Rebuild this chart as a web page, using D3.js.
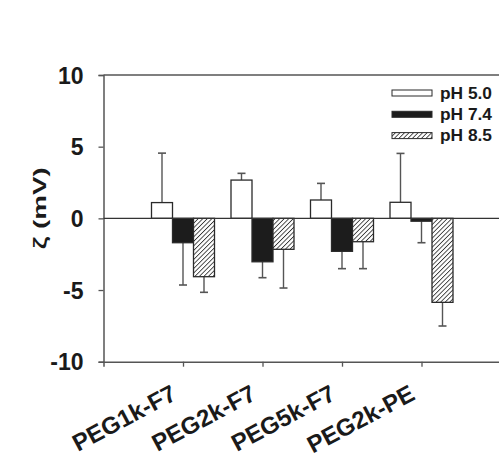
<!DOCTYPE html>
<html>
<head>
<meta charset="utf-8">
<script src="https://cdn.jsdelivr.net/npm/d3@7"></script>
<style>
  body { margin: 0; background: #fff; }
  text { font-family: "Liberation Sans", Arial, sans-serif; font-weight: bold; fill: #1a1a1a; }
</style>
</head>
<body>
<div id="chart"></div>
<script>
// data
let categories = ["PEG1k-F7", "PEG2k-F7", "PEG5k-F7", "PEG2k-PE"];
let series = ["pH 5.0", "pH 7.4", "pH 8.5"];
let ph50 = [1.1, 2.67, 1.28, 1.12];
let ph74 = [-1.7, -3.03, -2.3, -0.2];
let ph85 = [-4.07, -2.16, -1.63, -5.86];
let ph50_err = [3.45, 0.47, 1.16, 3.41];
let ph74_err = [2.95, 1.11, 1.21, 1.5];
let ph85_err = [1.09, 2.7, 1.88, 1.65];
let y_ticks = [10, 5, 0, -5, -10];

let _default = {
    width: 499,
    height: 458,
    left: 103.5,
    right: 501,
    top: 75,
    bottom: 361.7,
    bar_w: 21,
    cap_w: 8,
    axis: "#555",
    outline: "#2a2a2a"
};

let fills = ["#fff", "#1c1c1c", "url(#hatch)"];
let values = [ph50, ph74, ph85];
let errors = [ph50_err, ph74_err, ph85_err];

let svg = d3.select("div#chart")
    .append("svg")
    .attr("width", _default.width)
    .attr("height", _default.height);

let pat = svg.append("defs").append("pattern")
    .attr("id", "hatch")
    .attr("patternUnits", "userSpaceOnUse")
    .attr("width", 3.2)
    .attr("height", 3.2)
    .attr("patternTransform", "rotate(45)");
pat.append("rect").attr("width", 3.2).attr("height", 3.2).attr("fill", "#fff");
pat.append("line")
    .attr("x1", 0).attr("y1", 0).attr("x2", 0).attr("y2", 3.2)
    .attr("stroke", "#333").attr("stroke-width", 1.7);

// SigmaPlot style: groups sit at 1..4 on a 0..5 axis
let x = d3.scaleLinear().domain([0, 5]).range([_default.left, _default.right]);
let y = d3.scaleLinear().domain([-10, 10]).range([_default.bottom, _default.top]);

// top frame line
svg.append("line")
    .attr("x1", _default.left).attr("x2", _default.width)
    .attr("y1", y(10)).attr("y2", y(10))
    .attr("stroke", _default.axis).attr("stroke-width", 1.3);

let yAxis = svg.append("g")
    .attr("transform", `translate(${_default.left},0)`)
    .call(d3.axisLeft(y).tickValues(y_ticks).tickSize(5).tickPadding(15).tickFormat(d => String(d)));
yAxis.select(".domain").attr("stroke", _default.axis).attr("stroke-width", 1.5);
yAxis.selectAll(".tick line").attr("stroke", _default.axis).attr("stroke-width", 1.3);
yAxis.selectAll(".tick text")
    .attr("font-size", 23)
    .attr("font-family", "Liberation Sans, Arial, sans-serif")
    .attr("font-weight", "bold")
    .attr("fill", "#1a1a1a")
    .attr("dy", "0.36em");

let xAxis = svg.append("g")
    .attr("transform", `translate(0,${_default.bottom})`)
    .call(d3.axisBottom(x).tickValues([1, 2, 3, 4]).tickSize(5).tickFormat(""));
xAxis.select(".domain").attr("stroke", _default.axis).attr("stroke-width", 1.5);
xAxis.selectAll(".tick line").attr("stroke", _default.axis).attr("stroke-width", 1.3);

// category labels
svg.selectAll("text.cat").data(categories).enter().append("text")
    .attr("class", "cat")
    .attr("text-anchor", "end")
    .attr("font-size", 24)
    .attr("transform", (d, i) => `translate(${x(i + 1) - 5},${_default.bottom + 37}) rotate(-28)`)
    .text(d => d);

// bars
let groups = svg.selectAll("g.series").data(series).enter().append("g")
    .attr("class", "series");

groups.each(function (s, k) {
    let g = d3.select(this);
    let off = (k - 1.5) * _default.bar_w;
    let vals = values[k];
    let errs = errors[k];
    g.selectAll("line.err").data(vals).enter().append("line")
        .attr("x1", (d, i) => x(i + 1) + off + _default.bar_w / 2)
        .attr("x2", (d, i) => x(i + 1) + off + _default.bar_w / 2)
        .attr("y1", d => y(d))
        .attr("y2", (d, i) => y(d + Math.sign(d) * errs[i]))
        .attr("stroke", _default.axis).attr("stroke-width", 1.4);
    g.selectAll("line.cap").data(vals).enter().append("line")
        .attr("x1", (d, i) => x(i + 1) + off + _default.bar_w / 2 - _default.cap_w / 2)
        .attr("x2", (d, i) => x(i + 1) + off + _default.bar_w / 2 + _default.cap_w / 2)
        .attr("y1", (d, i) => y(d + Math.sign(d) * errs[i]))
        .attr("y2", (d, i) => y(d + Math.sign(d) * errs[i]))
        .attr("stroke", _default.axis).attr("stroke-width", 1.6);
    g.selectAll("rect").data(vals).enter().append("rect")
        .attr("x", (d, i) => x(i + 1) + off)
        .attr("width", _default.bar_w)
        .attr("y", d => y(Math.max(0, d)))
        .attr("height", d => Math.abs(y(d) - y(0)))
        .attr("fill", fills[k])
        .attr("stroke", _default.outline)
        .attr("stroke-width", 1.3);
});

// zero line
svg.append("line")
    .attr("x1", _default.left).attr("x2", _default.width)
    .attr("y1", y(0)).attr("y2", y(0))
    .attr("stroke", "#333").attr("stroke-width", 1.3);

// y title
svg.append("text")
    .attr("transform", `translate(46,${y(0) - 10}) rotate(-90)`)
    .attr("text-anchor", "middle")
    .attr("font-size", 19)
    .attr("textLength", 82)
    .attr("lengthAdjust", "spacingAndGlyphs")
    .text("ζ (mV)");

// legend
let legend = svg.selectAll("g.legend").data(series).enter().append("g")
    .attr("class", "legend")
    .attr("transform", (d, i) => `translate(392,${93 + i * 21.3})`);
legend.append("rect")
    .attr("x", 0).attr("y", -3)
    .attr("width", 40).attr("height", 6)
    .attr("fill", (d, i) => fills[i])
    .attr("stroke", _default.outline).attr("stroke-width", 1);
legend.append("text")
    .attr("x", 48).attr("y", 5.5)
    .attr("font-size", 16)
    .attr("textLength", 52)
    .attr("lengthAdjust", "spacingAndGlyphs")
    .text(d => d);
</script>
</body>
</html>
